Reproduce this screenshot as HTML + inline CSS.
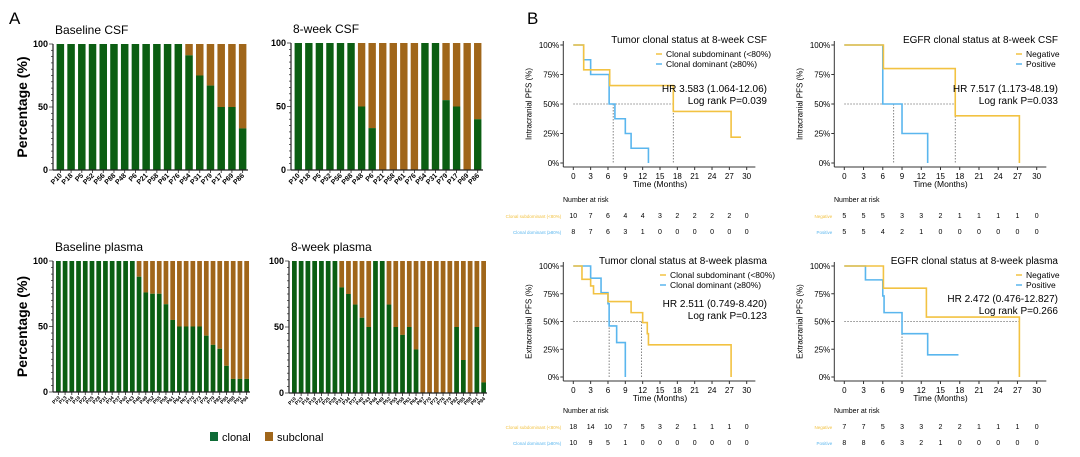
<!DOCTYPE html>
<html><head><meta charset="utf-8"><style>
body{margin:0;background:#fff}
svg{display:block;font-family:"Liberation Sans",Arial,sans-serif}
</style></head><body>
<svg id="s" width="1080" height="457" viewBox="0 0 1080 457" xmlns="http://www.w3.org/2000/svg">
<text x="9" y="24" font-size="17">A</text>
<text x="527" y="24" font-size="17">B</text>
<rect x="210" y="432" width="8" height="9" fill="#0e6b36"/><text x="222" y="441" font-size="11">clonal</text>
<rect x="265" y="432" width="8" height="9" fill="#a0661a"/><text x="277" y="441" font-size="11">subclonal</text>
</svg>
<script>
const S=document.getElementById('s');let h='';
const G='#0b5e12',B='#a0661a',Y='#f2c242',BL='#5ab6ee';
function bars(ax,y100,y0,end,vals,labels,title){
  const n=vals.length,p=(end-ax-2)/n,w=p*0.7;
  h+=`<text x="${ax+2}" y="${y100-10}" font-size="12">${title}</text>`;
  vals.forEach((v,i)=>{const x=ax+2+i*p+(p-w)/2,H=y0-y100,yc=y0-H*v/100;
    h+=`<rect x="${x}" y="${y100}" width="${w}" height="${yc-y100}" fill="${B}"/><rect x="${x}" y="${yc}" width="${w}" height="${y0-yc}" fill="${G}"/>`;
    h+=`<line x1="${x+w/2}" y1="${y0}" x2="${x+w/2}" y2="${y0+3}" stroke="#222" stroke-width="0.8"/>`;
    h+=`<text transform="translate(${x+w/2+2},${y0+6}) rotate(-45)" text-anchor="end" font-size="${n>20?5:7}" font-weight="bold">${labels[i]}</text>`;});
  h+=`<line x1="${ax}" y1="${y100}" x2="${ax}" y2="${y0}" stroke="#222" stroke-width="1.2"/><line x1="${ax}" y1="${y0}" x2="${end}" y2="${y0}" stroke="#222" stroke-width="1.2"/>`;
  for(let k=0;k<=20;k++){const y=y0-(y0-y100)*k/20;h+=`<line x1="${ax-(k%10==0?4:2)}" y1="${y}" x2="${ax}" y2="${y}" stroke="#222" stroke-width="0.7"/>`;}
  [[100,'100'],[50,'50'],[0,'0']].forEach(([v,t])=>{h+=`<text x="${ax-5}" y="${y0-(y0-y100)*v/100+3}" text-anchor="end" font-size="9" font-weight="bold">${t}</text>`;});
  if(ax<100)h+=`<text transform="translate(27,${(y100+y0)/2}) rotate(-90)" text-anchor="middle" font-size="14" font-weight="bold">Percentage (%)</text>`;
}
const L1='P10 P18 P5 P52 P56 P88 P48 P6 P21 P58 P61 P76 P54 P31 P79 P17 P69 P86'.split(' ');
const L2=[];for(let i=0;i<29;i++)L2.push('P'+(10+i*3));
bars(53,44,170,248,[100,100,100,100,100,100,100,100,100,100,100,100,91,75,67,50,50,33],L1,'Baseline CSF');
bars(291,43,170,483,[100,100,100,100,100,100,50,33,0,0,0,0,100,100,55,50,0,40],L1,'8-week CSF');
bars(53,261,392,250,[100,100,100,100,100,100,100,100,100,100,100,100,88,76,75,75,67,55,50,50,50,50,43,36,33,20,10,10,10],L2,'Baseline plasma');
bars(289,261,393,487,[100,100,100,100,100,100,100,80,75,67,57,50,100,100,67,50,44,50,33,0,0,0,0,0,50,25,0,50,8],L2,'8-week plasma');

function km(o){
  const X=t=>o.x0+(o.x30-o.x0)*t/30,Yv=s=>o.y0-(o.y0-o.y100)*s/100;
  const ax=o.x0-10,by=o.y0+4;
  h+=`<line x1="${ax}" y1="${o.y100-4}" x2="${ax}" y2="${by}" stroke="#333"/><line x1="${ax}" y1="${by}" x2="${X(31.5)}" y2="${by}" stroke="#333"/>`;
  for(let t=0;t<=30;t+=3)h+=`<line x1="${X(t)}" y1="${by}" x2="${X(t)}" y2="${by+3}" stroke="#333"/><text x="${X(t)}" y="${by+12}" text-anchor="middle" font-size="8">${t}</text>`;
  [0,25,50,75,100].forEach(v=>h+=`<line x1="${ax-3}" y1="${Yv(v)}" x2="${ax}" y2="${Yv(v)}" stroke="#333"/><text x="${ax-4}" y="${Yv(v)+3}" text-anchor="end" font-size="8">${v}%</text>`);
  h+=`<text x="${X(15)}" y="${by+20}" text-anchor="middle" font-size="8.5">Time (Months)</text>`;
  h+=`<text transform="translate(${ax-32},${(o.y0+o.y100)/2}) rotate(-90)" text-anchor="middle" font-size="8">${o.ylab}</text>`;
  const d=`stroke="#666" stroke-width="0.8" stroke-dasharray="1.5,1.5" fill="none"`;
  h+=`<line x1="${X(0)}" y1="${Yv(50)}" x2="${X(o.hz)}" y2="${Yv(50)}" ${d}/>`;
  o.vl.forEach(t=>h+=`<line x1="${X(t)}" y1="${Yv(50)}" x2="${X(t)}" y2="${o.y0}" ${d}/>`);
  [[o.c2,BL],[o.c1,Y]].forEach(([c,col])=>{let p=`M${X(0)},${Yv(c[0][1])}`;for(let i=1;i<c.length;i++){p+=`H${X(c[i][0])}V${Yv(c[i][1])}`;}p+=`H${X(o.end[col==Y?0:1])}`;h+=`<path d="${p}" stroke="${col}" stroke-width="1.6" fill="none"/>`;});
  h+=`<text x="${o.tr}" y="${o.y100-2}" text-anchor="end" font-size="10">${o.title}</text>`;
  h+=`<line x1="${o.lx}" y1="${o.y100+9}" x2="${o.lx+6}" y2="${o.y100+9}" stroke="${Y}" stroke-width="1.5"/><text x="${o.lx+10}" y="${o.y100+12}" font-size="8.5">${o.n1}</text>`;
  h+=`<line x1="${o.lx}" y1="${o.y100+19}" x2="${o.lx+6}" y2="${o.y100+19}" stroke="${BL}" stroke-width="1.5"/><text x="${o.lx+10}" y="${o.y100+22}" font-size="8.5">${o.n2}</text>`;
  h+=`<text x="${o.tr}" y="${o.hy}" text-anchor="end" font-size="10">${o.hr}</text><text x="${o.tr}" y="${o.hy+12}" text-anchor="end" font-size="10">${o.lr}</text>`;
  h+=`<text x="${o.rx}" y="${o.ry}" font-size="7">Number at risk</text>`;
  h+=`<text x="${X(0)-12}" y="${o.ry+16}" text-anchor="end" font-size="${o.ls}" fill="${Y}">${o.s1}</text><text x="${X(0)-12}" y="${o.ry+32}" text-anchor="end" font-size="${o.ls}" fill="${BL}">${o.s2}</text>`;
  o.r1.forEach((v,i)=>h+=`<text x="${X(i*3)}" y="${o.ry+16}" text-anchor="middle" font-size="7">${v}</text>`);
  o.r2.forEach((v,i)=>h+=`<text x="${X(i*3)}" y="${o.ry+32}" text-anchor="middle" font-size="7">${v}</text>`);
}
km({x0:573.3,x30:746.7,y100:45,y0:163,ylab:'Intracranial PFS (%)',hz:17.3,vl:[6.9,17.3],
 c1:[[0,100],[1.8,79],[6.3,65.6],[17.3,43.7],[27.3,21.9]],c2:[[0,100],[1.8,87.5],[3,75],[6.2,50],[7.2,37.5],[9,25],[10,12.5],[13,0]],end:[29,13],
 tr:767,title:'Tumor clonal status at 8-week CSF',lx:656,n1:'Clonal subdominant (&lt;80%)',n2:'Clonal dominant (≥80%)',hy:92,hr:'HR 3.583 (1.064-12.06)',lr:'Log rank P=0.039',
 rx:563,ry:202,s1:'Clonal subdominant (&lt;80%)',s2:'Clonal dominant (≥80%)',ls:4.5,r1:[10,7,6,4,4,3,2,2,2,2,0],r2:[8,7,6,3,1,0,0,0,0,0,0]});
km({x0:844.3,x30:1036.7,y100:45,y0:163,ylab:'Intracranial PFS (%)',hz:17.3,vl:[7.7,17.3],
 c1:[[0,100],[6.1,80],[17.3,40],[27.3,0]],c2:[[0,100],[6,50],[9,25],[13,0]],end:[27.3,13],
 tr:1058,title:'EGFR clonal status at 8-week CSF',lx:1016,n1:'Negative',n2:'Positive',hy:92,hr:'HR 7.517 (1.173-48.19)',lr:'Log rank P=0.033',
 rx:834,ry:202,s1:'Negative',s2:'Positive',ls:4.5,r1:[5,5,5,3,3,2,1,1,1,1,0],r2:[5,5,4,2,1,0,0,0,0,0,0]});
km({x0:573.3,x30:746.7,y100:266,y0:377,ylab:'Extracranial PFS (%)',hz:11.8,vl:[6.2,11.8],
 c1:[[0,100],[1.5,88],[3,82],[3.5,75],[6,68],[10,58],[12,49],[12.8,39],[13,29],[27.3,0]],c2:[[0,100],[3,89],[4.8,76],[6,66],[6.2,46],[7.5,31],[9,0]],end:[27.3,9],
 tr:767,title:'Tumor clonal status at 8-week plasma',lx:660,n1:'Clonal subdominant (&lt;80%)',n2:'Clonal dominant (≥80%)',hy:307,hr:'HR 2.511 (0.749-8.420)',lr:'Log rank P=0.123',
 rx:563,ry:413,s1:'Clonal subdominant (&lt;80%)',s2:'Clonal dominant (≥80%)',ls:4.5,r1:[18,14,10,7,5,3,2,1,1,1,0],r2:[10,9,5,1,0,0,0,0,0,0,0]});
km({x0:844.3,x30:1036.7,y100:266,y0:377,ylab:'Extracranial PFS (%)',hz:27.3,vl:[9,27.3],
 c1:[[0,100],[6.1,80],[12.8,54],[27.3,0]],c2:[[0,100],[3.3,87.5],[6,73],[6.2,58],[9,39],[13,20]],end:[27.3,17.8],
 tr:1058,title:'EGFR clonal status at 8-week plasma',lx:1016,n1:'Negative',n2:'Positive',hy:302,hr:'HR 2.472 (0.476-12.827)',lr:'Log rank P=0.266',
 rx:834,ry:413,s1:'Negative',s2:'Positive',ls:4.5,r1:[7,7,5,3,3,2,2,1,1,1,0],r2:[8,8,6,3,2,1,0,0,0,0,0]});
S.insertAdjacentHTML('beforeend',h);
</script>
</body></html>
